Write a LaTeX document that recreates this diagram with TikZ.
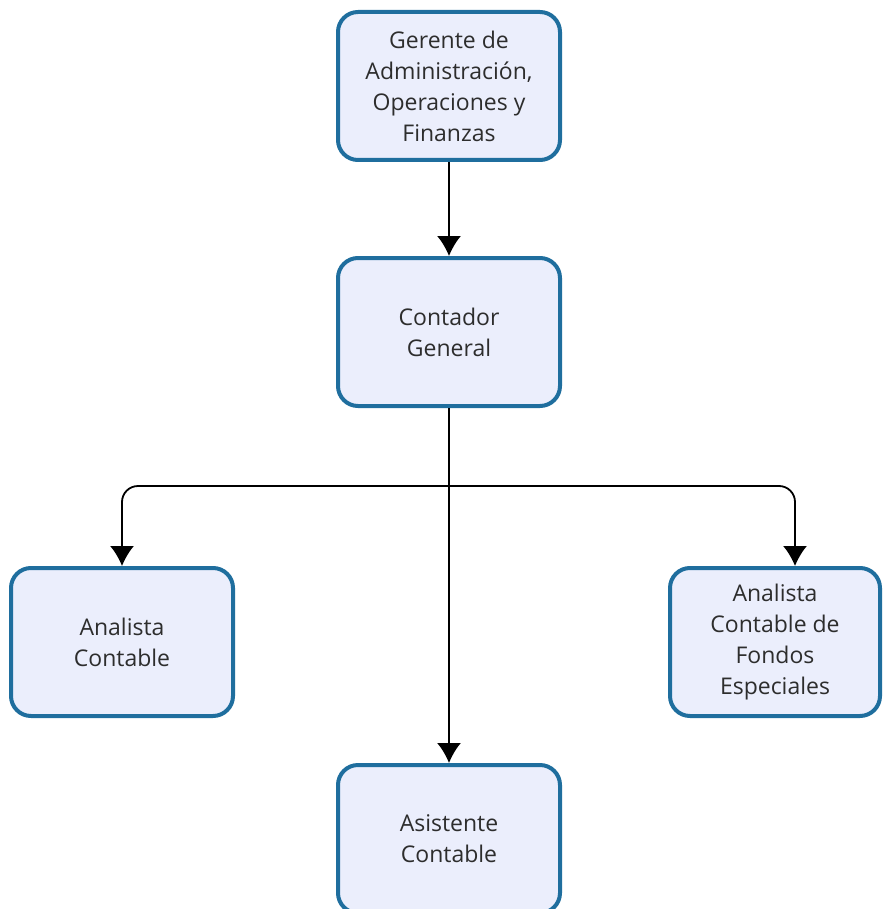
\documentclass[tikz,border=0pt]{standalone}
\usepackage{fontspec}
\setmainfont{Open Sans}
\usetikzlibrary{positioning}
\usetikzlibrary{arrows.meta}
\definecolor{boxline}{RGB}{31,110,158}
\definecolor{boxfill}{RGB}{235,238,252}
\definecolor{boxtext}{RGB}{45,45,45}

\begin{document}
\begin{tikzpicture}[x=0.5pt, y=-0.5pt, >={Latex[length=10pt, width=12pt]}]
    \tikzset{
        rolebox/.style={draw=boxline, line width=2pt, fill=boxfill, rounded corners=10pt,
            minimum width=111pt, minimum height=74pt, align=center, text=boxtext,
            font=\fontsize{11.5}{15.5}\selectfont},
        link/.style={->, line width=0.9pt, black}
    }
    \useasboundingbox (0,0) rectangle (883,909);

    % Upper levels
    \node[rolebox] (gerente) at (449, 86) {Gerente de\\Administración,\\Operaciones y\\Finanzas};
    \node[rolebox] (contador) at (449, 332) {Contador\\General};

    % Lower level
    \node[rolebox] (analista) at (122, 642) {Analista\\Contable};
    \node[rolebox, minimum width=105pt] (fondos) at (775, 642) {Analista\\Contable de\\Fondos\\Especiales};
    \node[rolebox] (asistente) at (449, 839) {Asistente\\Contable};

    % Connections
    \coordinate (split) at (449, 486);
    \coordinate (fondos-in) at ([xshift=10pt]fondos.north);
    \draw[link] (gerente) -- (contador);
    \draw[link] (contador) -- (asistente);
    \draw[link, rounded corners=8pt] (split) -| (analista.north);
    \draw[link, rounded corners=8pt] (split) -| (fondos-in);
\end{tikzpicture}
\end{document}
